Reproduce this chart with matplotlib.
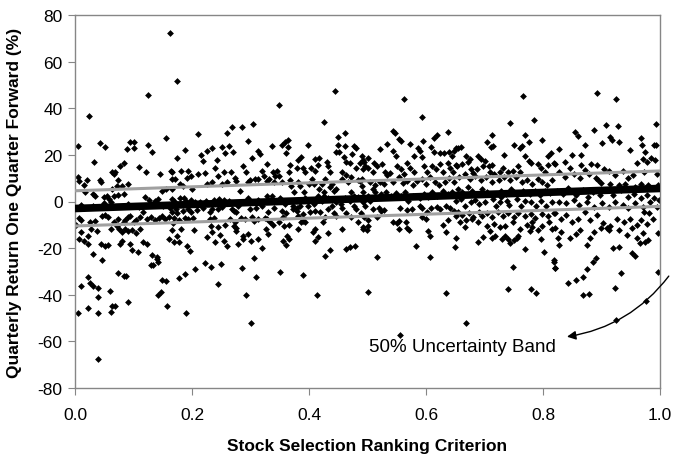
import numpy as np
import matplotlib
matplotlib.use("Agg")
from matplotlib import pyplot as plt

plt.rcParams['font.family'] = ['Liberation Sans', 'DejaVu Sans']

# (ranking criterion, quarterly return %), grouped by x range
seg_00_17 = [
    (0.162, 72.1), (0.125, 45.8), (0.024, 36.5), (0.155, 27.1), (0.005, 23.7), (0.043, 24.9),
    (0.051, 23.5), (0.094, 25.4), (0.101, 25.4), (0.089, 22.5), (0.100, 22.8), (0.124, 24.2),
    (0.131, 21.1), (0.033, 16.8), (0.084, 16.5), (0.077, 15.4), (0.109, 14.6), (0.121, 12.5),
    (0.145, 11.8), (0.164, 13.2), (0.166, 9.6), (0.064, 12.8), (0.068, 12.5), (0.067, 11.8),
    (0.074, 9.4), (0.091, 7.5), (0.005, 10.4), (0.006, 8.9), (0.020, 9.4), (0.043, 9.4),
    (0.044, 8.2), (0.016, 7.1), (0.063, 5.4), (0.071, 6.5), (0.081, 6.8), (0.017, 4.2),
    (0.031, 3.2), (0.035, 2.5), (0.050, 1.8), (0.054, 2.5), (0.058, 1.1), (0.062, -0.1),
    (0.067, 2.2), (0.074, 2.8), (0.083, 3.2), (0.120, 1.8), (0.126, 0.8), (0.137, 0.3),
    (0.142, 1.1), (0.149, 4.6), (0.155, 5.4), (0.165, 5.4), (0.006, -7.2), (0.011, -7.8),
    (0.026, -8.9), (0.034, -8.2), (0.046, -6.1), (0.052, -5.8), (0.057, -6.8), (0.067, -8.7),
    (0.074, -7.5), (0.083, -8.9), (0.085, -7.8), (0.091, -6.8), (0.094, -6.1), (0.100, -8.9),
    (0.105, -7.8), (0.111, -6.8), (0.117, -4.7), (0.123, -7.5), (0.130, -6.8), (0.137, -7.8),
    (0.144, -7.2), (0.149, -6.1), (0.154, -7.5), (0.161, -6.8), (0.166, -4.7), (0.028, -11.8),
    (0.037, -12.5), (0.011, -13.2), (0.007, -16.1), (0.016, -16.8), (0.022, -15.0), (0.023, -18.2),
    (0.031, -22.5), (0.044, -18.2), (0.051, -19.2), (0.056, -18.7), (0.062, -11.8), (0.071, -10.7),
    (0.075, -11.8), (0.080, -13.0), (0.085, -11.8), (0.091, -12.5), (0.097, -12.1), (0.105, -13.5),
    (0.111, -11.8), (0.117, -17.5), (0.123, -18.2), (0.131, -23.0), (0.140, -24.0), (0.141, -24.7),
    (0.142, -26.1), (0.160, -16.1), (0.170, -17.5), (0.080, -16.8), (0.077, -18.2), (0.094, -18.2),
    (0.098, -20.7), (0.107, -21.8), (0.046, -25.0), (0.130, -27.3), (0.134, -27.3), (0.023, -32.3),
    (0.026, -35.1), (0.031, -36.1), (0.039, -37.3), (0.040, -40.8), (0.010, -36.1), (0.060, -38.3),
    (0.073, -30.8), (0.083, -31.8), (0.088, -31.8), (0.149, -33.5), (0.155, -34.0), (0.147, -38.7),
    (0.142, -40.1), (0.157, -44.7), (0.005, -47.8), (0.023, -45.8), (0.039, -47.8), (0.064, -45.0),
    (0.062, -47.3), (0.068, -44.7), (0.091, -43.3), (0.039, -67.6), (0.010, -1.5), (0.030, -2.0),
    (0.050, -0.8), (0.090, -1.2), (0.110, -2.4), (0.130, -1.0), (0.150, -2.0), (0.002, -10.0),
]

seg_17_33 = [
    (0.175, 51.8), (0.211, 28.8), (0.268, 31.8), (0.285, 31.8), (0.304, 33.2), (0.259, 29.2),
    (0.296, 26.1), (0.188, 22.2), (0.175, 18.5), (0.216, 19.9), (0.225, 21.8), (0.234, 22.8),
    (0.218, 17.5), (0.252, 23.2), (0.264, 23.7), (0.256, 20.8), (0.270, 21.4), (0.242, 17.9),
    (0.302, 18.5), (0.313, 21.8), (0.316, 20.4), (0.288, 15.4), (0.292, 12.5), (0.319, 13.2),
    (0.323, 11.1), (0.165, 12.8), (0.182, 12.9), (0.194, 13.2), (0.198, 11.1), (0.192, 9.9),
    (0.211, 11.8), (0.222, 12.2), (0.239, 14.2), (0.245, 11.1), (0.254, 12.8), (0.266, 12.8),
    (0.273, 9.9), (0.276, 8.9), (0.282, 4.6), (0.308, 9.6), (0.313, 9.6), (0.171, 9.6),
    (0.180, 7.5), (0.185, 6.8), (0.200, 5.4), (0.226, 7.5), (0.235, 8.2), (0.251, 7.5),
    (0.259, 8.5), (0.295, 8.2), (0.299, 9.4), (0.328, 8.9), (0.165, 1.1), (0.169, 0.3),
    (0.179, 1.5), (0.186, 1.3), (0.190, 0.3), (0.199, 0.8), (0.205, -0.4), (0.214, -0.1),
    (0.224, 0.3), (0.228, -0.7), (0.237, 0.8), (0.242, -0.1), (0.247, 1.1), (0.255, 0.8),
    (0.264, 0.3), (0.271, -3.9), (0.279, -1.8), (0.288, -0.4), (0.296, 1.3), (0.305, -0.1),
    (0.313, 0.8), (0.319, -1.8), (0.329, 0.3), (0.162, -2.9), (0.173, -3.2), (0.174, -4.9),
    (0.184, -3.9), (0.194, -3.2), (0.198, -4.4), (0.208, -3.5), (0.219, -2.9), (0.230, -4.4),
    (0.234, -3.2), (0.245, -3.2), (0.252, -2.5), (0.268, -3.2), (0.276, -4.7), (0.299, -3.2),
    (0.309, -2.9), (0.169, -7.2), (0.178, -7.8), (0.188, -7.2), (0.194, -7.5), (0.201, -7.2),
    (0.168, -9.2), (0.182, -11.8), (0.203, -12.1), (0.230, -7.5), (0.237, -7.2), (0.232, -10.4),
    (0.245, -11.1), (0.256, -10.1), (0.265, -7.5), (0.273, -8.9), (0.276, -11.5), (0.283, -7.2),
    (0.291, -7.5), (0.302, -6.8), (0.306, -8.2), (0.312, -7.5), (0.325, -7.2), (0.326, -11.8),
    (0.330, -13.9), (0.165, -12.1), (0.174, -14.7), (0.177, -17.2), (0.192, -18.9), (0.197, -21.1),
    (0.226, -15.4), (0.235, -13.0), (0.239, -17.5), (0.248, -14.4), (0.255, -16.8), (0.259, -19.2),
    (0.272, -10.4), (0.275, -12.5), (0.279, -18.2), (0.288, -16.1), (0.296, -13.9), (0.312, -16.1),
    (0.319, -20.1), (0.300, -16.8), (0.288, -14.7), (0.178, -33.0), (0.188, -31.1), (0.205, -29.0),
    (0.222, -26.4), (0.232, -28.3), (0.249, -26.8), (0.245, -35.4), (0.286, -28.7), (0.306, -24.4),
    (0.309, -32.3), (0.293, -40.1), (0.190, -47.8), (0.301, -52.1),
]

seg_33_50 = [
    (0.444, 47.5), (0.348, 41.4), (0.426, 33.9), (0.462, 29.4), (0.449, 27.5), (0.337, 23.7),
    (0.354, 24.2), (0.359, 25.7), (0.364, 26.5), (0.360, 20.8), (0.364, 23.2), (0.398, 24.2),
    (0.328, 16.1), (0.339, 12.8), (0.345, 13.2), (0.349, 11.1), (0.367, 15.7), (0.366, 12.8),
    (0.381, 17.9), (0.386, 18.9), (0.379, 14.2), (0.390, 14.2), (0.394, 12.8), (0.382, 8.2),
    (0.411, 18.2), (0.417, 18.5), (0.415, 15.7), (0.403, 14.2), (0.410, 13.2), (0.430, 16.8),
    (0.433, 15.1), (0.427, 9.6), (0.436, 12.5), (0.446, 21.1), (0.451, 21.4), (0.449, 24.2),
    (0.462, 23.9), (0.459, 18.9), (0.464, 17.1), (0.457, 12.5), (0.470, 16.5), (0.474, 20.4),
    (0.477, 23.9), (0.480, 22.8), (0.481, 14.2), (0.487, 16.5), (0.490, 19.6), (0.493, 17.9),
    (0.495, 15.4), (0.464, 11.4), (0.472, 10.4), (0.477, 2.5), (0.484, 9.4), (0.332, 9.6),
    (0.342, 10.8), (0.341, 8.2), (0.354, 8.2), (0.367, 9.4), (0.369, 6.8), (0.375, 4.2),
    (0.385, 6.5), (0.392, 4.2), (0.405, 9.6), (0.400, 7.5), (0.409, 7.5), (0.422, 7.5),
    (0.417, 5.4), (0.426, 4.2), (0.436, 6.1), (0.439, 7.5), (0.443, 4.6), (0.447, 5.4),
    (0.456, 9.6), (0.467, 8.2), (0.472, 4.2), (0.487, 8.9), (0.491, 6.8), (0.329, 2.2),
    (0.336, 2.5), (0.350, 1.3), (0.359, -1.1), (0.372, -1.8), (0.379, -2.9), (0.385, -2.1),
    (0.387, 0.3), (0.394, 1.3), (0.399, -1.8), (0.409, -1.1), (0.415, 2.2), (0.422, 0.3),
    (0.426, 2.5), (0.433, 1.3), (0.439, -1.8), (0.446, -0.4), (0.455, -1.1), (0.462, 1.3),
    (0.470, 0.3), (0.477, -1.8), (0.484, 1.8), (0.493, -0.4), (0.330, -4.4), (0.341, -2.9),
    (0.353, -3.9), (0.360, -4.9), (0.373, -3.2), (0.379, -3.9), (0.389, -5.4), (0.402, -4.4),
    (0.411, -3.9), (0.419, -4.7), (0.432, -3.2), (0.442, -4.9), (0.447, -6.4), (0.456, -2.9),
    (0.464, -4.9), (0.472, -6.8), (0.481, -3.2), (0.489, -4.9), (0.328, -7.5), (0.333, -8.9),
    (0.339, -10.1), (0.349, -8.9), (0.356, -6.8), (0.358, -10.4), (0.366, -10.1), (0.362, -15.0),
    (0.356, -16.8), (0.360, -18.7), (0.366, -16.1), (0.381, -6.4), (0.386, -8.9), (0.390, -8.2),
    (0.382, -11.8), (0.394, -8.9), (0.407, -13.0), (0.411, -11.8), (0.416, -15.4), (0.410, -16.8),
    (0.424, -8.9), (0.428, -6.8), (0.433, -13.5), (0.436, -20.7), (0.428, -23.5), (0.457, -11.8),
    (0.463, -20.4), (0.470, -19.7), (0.479, -19.2), (0.483, -8.9), (0.493, -11.8), (0.350, -30.1),
    (0.390, -31.5), (0.413, -40.1),
]

seg_50_66 = [
    (0.562, 43.9), (0.593, 36.1), (0.543, 30.4), (0.547, 29.4), (0.553, 26.8), (0.558, 26.1),
    (0.573, 24.7), (0.587, 22.8), (0.595, 26.1), (0.614, 27.1), (0.619, 28.5), (0.638, 29.7),
    (0.534, 24.7), (0.544, 21.8), (0.549, 19.6), (0.522, 22.5), (0.500, 18.5), (0.494, 16.8),
    (0.511, 16.5), (0.516, 15.4), (0.524, 16.1), (0.568, 16.5), (0.579, 19.6), (0.590, 21.8),
    (0.593, 19.0), (0.608, 23.2), (0.614, 21.1), (0.624, 20.8), (0.631, 20.8), (0.640, 21.1),
    (0.644, 19.6), (0.648, 21.8), (0.655, 22.8), (0.493, 13.9), (0.501, 14.2), (0.509, 12.5),
    (0.530, 12.5), (0.534, 11.4), (0.539, 12.2), (0.550, 15.4), (0.558, 13.9), (0.562, 11.8),
    (0.573, 14.2), (0.580, 12.8), (0.597, 15.4), (0.601, 12.8), (0.611, 15.4), (0.617, 13.9),
    (0.624, 16.1), (0.629, 12.5), (0.637, 16.5), (0.641, 14.2), (0.646, 12.5), (0.653, 15.4),
    (0.490, 9.6), (0.504, 8.5), (0.513, 7.1), (0.521, 8.2), (0.528, 7.5), (0.544, 8.5),
    (0.553, 10.4), (0.560, 7.9), (0.567, 8.9), (0.577, 7.1), (0.585, 8.9), (0.593, 9.6),
    (0.600, 7.5), (0.607, 10.4), (0.615, 8.2), (0.623, 7.1), (0.633, 8.5), (0.640, 9.9),
    (0.648, 8.2), (0.492, 4.2), (0.500, 2.5), (0.509, 5.4), (0.513, 3.9), (0.523, 3.2),
    (0.532, 4.2), (0.540, 2.5), (0.549, 3.6), (0.557, 2.5), (0.564, 4.2), (0.570, 0.3),
    (0.578, 2.5), (0.589, 1.3), (0.597, 3.2), (0.604, 1.8), (0.611, 4.2), (0.619, 2.5),
    (0.629, 4.6), (0.637, 3.2), (0.644, 3.9), (0.652, 2.5), (0.496, -2.1), (0.504, 0.3),
    (0.510, -3.2), (0.519, -2.9), (0.523, -3.9), (0.528, -3.5), (0.556, -2.9), (0.567, -3.5),
    (0.576, -3.2), (0.589, -2.1), (0.593, -2.9), (0.601, -4.7), (0.608, -2.9), (0.618, -2.5),
    (0.624, -3.2), (0.634, -1.8), (0.641, -2.9), (0.648, -3.9), (0.494, -6.8), (0.500, -7.8),
    (0.517, -6.8), (0.544, -8.9), (0.554, -8.2), (0.566, -8.9), (0.593, -6.8), (0.600, -7.5),
    (0.637, -7.8), (0.652, -6.1), (0.493, -11.1), (0.499, -12.1), (0.501, -10.4), (0.551, -9.2),
    (0.554, -11.8), (0.567, -11.5), (0.571, -12.1), (0.604, -12.5), (0.607, -15.0), (0.629, -10.1),
    (0.634, -13.0), (0.650, -19.7), (0.583, -19.2), (0.607, -24.0), (0.516, -24.0), (0.500, -39.0),
    (0.635, -39.3), (0.555, -57.3),
]

seg_66_82 = [
    (0.766, 45.1), (0.785, 35.0), (0.744, 33.7), (0.712, 28.5), (0.770, 28.5), (0.799, 26.5),
    (0.705, 25.4), (0.711, 23.2), (0.715, 23.7), (0.652, 22.8), (0.660, 23.2), (0.668, 19.6),
    (0.671, 17.1), (0.675, 18.2), (0.689, 19.6), (0.694, 18.2), (0.700, 17.5), (0.707, 15.4),
    (0.713, 15.7), (0.734, 19.9), (0.751, 24.2), (0.761, 22.8), (0.764, 23.7), (0.776, 25.4),
    (0.770, 19.6), (0.776, 17.5), (0.780, 16.5), (0.809, 19.4), (0.814, 20.8), (0.652, 15.7),
    (0.662, 16.1), (0.677, 13.9), (0.681, 12.2), (0.698, 15.4), (0.687, 13.9), (0.709, 12.5),
    (0.717, 11.8), (0.727, 12.8), (0.731, 14.2), (0.741, 12.8), (0.749, 13.2), (0.757, 15.4),
    (0.761, 12.5), (0.792, 16.1), (0.797, 14.2), (0.804, 12.5), (0.809, 15.7), (0.818, 16.5),
    (0.656, 10.4), (0.667, 11.8), (0.675, 9.6), (0.684, 11.1), (0.694, 9.4), (0.702, 10.4),
    (0.712, 8.2), (0.724, 9.4), (0.734, 10.4), (0.744, 9.4), (0.753, 10.4), (0.764, 8.2),
    (0.772, 9.4), (0.781, 7.5), (0.791, 9.6), (0.799, 8.5), (0.806, 7.1), (0.815, 9.4),
    (0.654, 5.4), (0.662, 4.2), (0.672, 6.1), (0.679, 4.6), (0.687, 3.2), (0.695, 5.4),
    (0.704, 4.2), (0.718, 3.2), (0.728, 4.6), (0.736, 3.2), (0.745, 5.4), (0.751, 3.9),
    (0.766, 4.6), (0.778, 3.2), (0.786, 4.6), (0.795, 2.8), (0.803, 4.6), (0.812, 3.6),
    (0.652, 0.3), (0.660, 1.1), (0.667, -1.8), (0.677, -0.4), (0.684, 0.8), (0.691, -1.1),
    (0.700, -0.1), (0.715, 1.1), (0.719, -1.8), (0.727, -0.1), (0.729, 1.8), (0.738, 0.3),
    (0.742, -1.5), (0.755, 1.1), (0.762, -1.8), (0.770, 0.3), (0.780, -0.4), (0.788, -2.1),
    (0.797, 0.3), (0.805, -1.8), (0.815, -0.1), (0.654, -4.7), (0.661, -5.8), (0.674, -4.9),
    (0.681, -6.8), (0.690, -4.4), (0.695, -6.1), (0.705, -4.9), (0.713, -6.8), (0.723, -4.7),
    (0.732, -6.1), (0.741, -4.9), (0.751, -6.8), (0.758, -4.9), (0.769, -6.1), (0.780, -5.4),
    (0.786, -7.2), (0.799, -5.4), (0.809, -6.4), (0.818, -4.9), (0.658, -8.9), (0.668, -7.8),
    (0.678, -7.5), (0.689, -8.9), (0.704, -10.4), (0.717, -9.7), (0.727, -11.1), (0.735, -10.7),
    (0.749, -8.9), (0.761, -11.8), (0.772, -10.1), (0.782, -8.9), (0.791, -12.1), (0.799, -10.4),
    (0.810, -8.9), (0.815, -11.8), (0.651, -15.8), (0.666, -11.1), (0.689, -17.5), (0.698, -15.4),
    (0.709, -12.5), (0.713, -15.8), (0.718, -14.7), (0.730, -16.1), (0.735, -15.0), (0.740, -16.1),
    (0.744, -17.8), (0.751, -16.4), (0.755, -15.8), (0.758, -14.7), (0.770, -20.4), (0.778, -12.5),
    (0.782, -11.1), (0.797, -16.1), (0.801, -21.8), (0.818, -26.1), (0.820, -28.7), (0.749, -28.3),
    (0.741, -37.5), (0.780, -37.5), (0.788, -39.3), (0.669, -52.1),
]

seg_82_100 = [
    (0.893, 46.5), (0.924, 44.1), (0.888, 30.5), (0.908, 32.7), (0.929, 32.4), (0.993, 33.1),
    (0.854, 29.8), (0.860, 28.0), (0.915, 27.7), (0.918, 26.2), (0.967, 27.3), (0.930, 25.6),
    (0.900, 25.3), (0.871, 24.1), (0.969, 24.1), (0.989, 24.4), (0.993, 24.1), (0.827, 22.7),
    (0.849, 20.1), (0.865, 19.9), (0.949, 22.0), (0.974, 21.3), (0.985, 18.7), (0.991, 17.7),
    (0.978, 17.0), (0.971, 18.4), (0.960, 16.7), (0.865, 15.6), (0.882, 15.9), (0.838, 17.0),
    (0.820, 16.3), (0.846, 14.4), (0.871, 13.4), (0.893, 15.6), (0.904, 13.9), (0.912, 13.0),
    (0.923, 11.3), (0.936, 13.0), (0.945, 9.9), (0.954, 11.3), (0.973, 12.7), (0.995, 12.0),
    (0.827, 12.7), (0.838, 10.6), (0.853, 12.0), (0.864, 9.9), (0.879, 11.6), (0.890, 9.9),
    (0.899, 8.0), (0.894, 9.2), (0.914, 7.7), (0.930, 7.0), (0.941, 7.7), (0.958, 6.3),
    (0.968, 7.7), (0.980, 7.0), (0.996, 7.0), (0.824, 4.4), (0.835, 3.4), (0.843, 5.6),
    (0.857, 2.7), (0.868, 4.9), (0.877, 2.0), (0.886, 4.2), (0.897, 2.7), (0.908, 4.9),
    (0.919, 2.7), (0.934, 4.9), (0.945, 2.0), (0.956, 3.4), (0.967, 1.3), (0.978, 2.7),
    (0.989, 1.3), (0.999, 0.6), (0.827, -0.1), (0.840, -0.8), (0.853, 0.6), (0.862, -1.5),
    (0.875, -0.4), (0.888, -2.3), (0.901, -0.8), (0.912, -2.3), (0.923, -0.4), (0.936, -1.5),
    (0.946, -3.0), (0.958, -0.8), (0.971, -2.3), (0.983, -0.4), (0.995, -2.3), (0.820, -5.1),
    (0.831, -7.3), (0.840, -5.8), (0.849, -8.7), (0.860, -7.3), (0.871, -4.4), (0.880, -8.0),
    (0.892, -5.8), (0.902, -9.4), (0.910, -11.2), (0.915, -10.4), (0.926, -7.3), (0.938, -9.0),
    (0.949, -7.3), (0.960, -10.1), (0.968, -8.0), (0.978, -9.8), (0.988, -7.3), (0.820, -11.5),
    (0.831, -13.0), (0.846, -15.5), (0.857, -14.1), (0.864, -12.2), (0.880, -15.8), (0.888, -13.0),
    (0.899, -11.5), (0.912, -12.2), (0.930, -12.2), (0.943, -14.4), (0.952, -11.5), (0.960, -15.5),
    (0.971, -13.7), (0.974, -17.2), (0.980, -16.5), (0.952, -22.2), (0.958, -23.2), (0.919, -19.8),
    (0.930, -19.4), (0.966, -18.0), (0.996, -13.7), (0.875, -18.7), (0.825, -15.5), (0.818, -25.1),
    (0.821, -28.7), (0.827, -18.7), (0.842, -35.1), (0.857, -33.6), (0.868, -32.2), (0.875, -28.9),
    (0.886, -25.8), (0.890, -24.1), (0.868, -40.1), (0.879, -39.8), (0.923, -37.2), (0.934, -30.8),
    (0.924, -50.8), (0.976, -42.6), (0.996, -30.1), (0.972, -4.4), (0.982, -5.1),
]

# fitted line and 50% uncertainty band (values at x = 0 and x = 1)
line_x = [0.0, 1.0]
fit_y = [-3.0, 5.6]
upper_y = [4.6, 13.1]
lower_y = [-10.5, -2.1]

x_ticks = [0.0, 0.2, 0.4, 0.6, 0.8, 1.0]
y_ticks = [-80, -60, -40, -20, 0, 20, 40, 60, 80]

pts = np.array(seg_00_17 + seg_17_33 + seg_33_50 + seg_50_66 + seg_66_82 + seg_82_100)
rank, ret = pts[:, 0], pts[:, 1]

fig = plt.figure(figsize=(6.74, 4.56), dpi=100)
ax = fig.add_axes([75 / 674, 67 / 456, 585 / 674, 373 / 456])

ax.scatter(rank, ret, marker='D', s=12, color='black', linewidths=0, zorder=2)
ax.plot(line_x, upper_y, color='#a0a0a0', lw=2.2, solid_capstyle='butt', zorder=3)
ax.plot(line_x, lower_y, color='#a0a0a0', lw=2.2, solid_capstyle='butt', zorder=3)
ax.plot(line_x, fit_y, color='black', lw=5.5, solid_capstyle='butt', zorder=4)

ax.set_xlim(0, 1)
ax.set_ylim(-80, 80)
ax.set_xticks(x_ticks)
ax.set_xticklabels(['%.1f' % v for v in x_ticks])
ax.set_yticks(y_ticks)
ax.set_yticklabels([str(v) for v in y_ticks])
for s in ax.spines.values():
    s.set_color('#868686')
    s.set_linewidth(1.0)
ax.tick_params(axis='x', direction='out', length=5, color='#868686', labelsize=12.5, pad=9)
ax.tick_params(axis='y', direction='out', length=5, color='#868686', labelsize=12.5, pad=4)

# curved arrow from outside the right edge down to the label
ax.annotate('', xy=(0.841, -58.0), xytext=(1.015, -32.0), annotation_clip=False,
            arrowprops=dict(arrowstyle='-|>', color='black', lw=1.0, mutation_scale=13,
                            connectionstyle='arc3,rad=-0.2', shrinkA=0, shrinkB=0))
ax.text(0.662, -62.4, '50% Uncertainty Band', fontsize=13.5, ha='center', va='center')

fig.text(367.5 / 674, 1 - 447 / 456, 'Stock Selection Ranking Criterion',
         fontsize=12.5, fontweight='bold', ha='center', va='center')
fig.text(15 / 674, 1 - 202.5 / 456, 'Quarterly Return One Quarter Forward (%)',
         fontsize=12.5, fontweight='bold', ha='center', va='center', rotation=90)

fig.savefig('out.png', dpi=100)
